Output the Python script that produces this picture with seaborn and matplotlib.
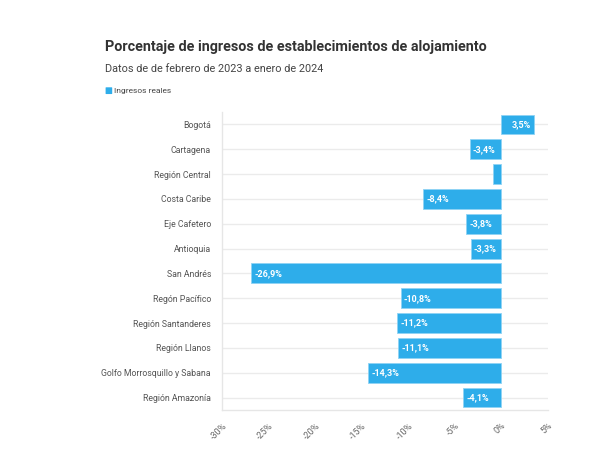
import pandas as pd
import matplotlib.pyplot as plt
import seaborn as sns
from matplotlib.patches import FancyBboxPatch
from matplotlib import font_manager

# Datos
regiones = ["Bogotá", "Cartagena", "Región Central", "Costa Caribe", "Eje Cafetero",
            "Antioquia", "San Andrés", "Regón Pacífico", "Región Santanderes",
            "Región Llanos", "Golfo Morrosquillo y Sabana", "Región Amazonía"]
valores = [3.5, -3.4, -0.9, -8.4, -3.8, -3.3, -26.9, -10.8, -11.2, -11.1, -14.3, -4.1]
etiquetas = ["3,5%", "-3,4%", "", "-8,4%", "-3,8%", "-3,3%", "-26,9%", "-10,8%",
             "-11,2%", "-11,1%", "-14,3%", "-4,1%"]
ticks = [-30, -25, -20, -15, -10, -5, 0, 5]
tick_labels = ["-30%", "-25%", "-20%", "-15%", "-10%", "-5%", "0%", "5%"]

def main():
    names = sorted({f.name for f in font_manager.fontManager.ttflist if "Roboto" in f.name})
    print(names)
    sns.set_theme(style="white")
    plt.rcParams['font.family'] = ['Roboto', 'DejaVu Sans']

    df = pd.DataFrame({"region": regiones, "valor": valores})
    color = "#2EADEA"

    fig = plt.figure(figsize=(6, 4.5), dpi=100)
    ax = fig.add_axes([0.37, 0.089, 0.543, 0.662])

    # horizontal guide lines at each category
    for i in range(len(regiones)):
        ax.axhline(i, color="#EBEBEB", lw=1, zorder=0)

    sns.barplot(data=df, y="region", x="valor", orient="h", color=color, saturation=1,
                width=0.8, edgecolor="#8fd3f4", linewidth=0.6, ax=ax, zorder=2)

    for i, (v, lab) in enumerate(zip(valores, etiquetas)):
        if not lab:
            continue
        if v < 0:
            ax.text(v + 0.35, i, lab, ha="left", va="center", color="white",
                    fontsize=6.5, fontweight="bold", zorder=3)
        else:
            ax.text(v - 0.35, i, lab, ha="right", va="center", color="white",
                    fontsize=6.5, fontweight="bold", zorder=3)

    ax.set_xlim(-30, 5)
    ax.set_ylim(len(regiones) - 0.5, -0.5)
    ax.set_xticks(ticks)
    ax.set_xticklabels(tick_labels, rotation=45, ha="right", rotation_mode="anchor",
                       fontsize=6.5, color="#666666")
    ax.tick_params(axis="x", length=4, color="#E0E0E0", pad=4)
    ax.tick_params(axis="y", length=0, labelsize=6.3, labelcolor="#555555", pad=8)
    ax.set_xlabel("")
    ax.set_ylabel("")
    for s in ["top", "right"]:
        ax.spines[s].set_visible(False)
    for s in ["left", "bottom"]:
        ax.spines[s].set_color("#E6E6E6")
        ax.spines[s].set_linewidth(1)

    fig.text(0.175, 0.895, "Porcentaje de ingresos de establecimientos de alojamiento",
             fontsize=10.4, fontweight="bold", color="#333333", va="center")
    fig.text(0.175, 0.847, "Datos de de febrero de 2023 a enero de 2024",
             fontsize=7.8, color="#444444", va="center")

    # legend
    fig.patches.append(FancyBboxPatch((0.177, 0.792), 0.009, 0.013,
                                      boxstyle="round,pad=0.001", transform=fig.transFigure,
                                      facecolor=color, edgecolor="none"))
    fig.text(0.19, 0.798, "Ingresos reales", fontsize=6, color="#444444", va="center")

    plt.savefig("out.png", dpi=100)
    plt.close()

if __name__ == "__main__":
    main()
